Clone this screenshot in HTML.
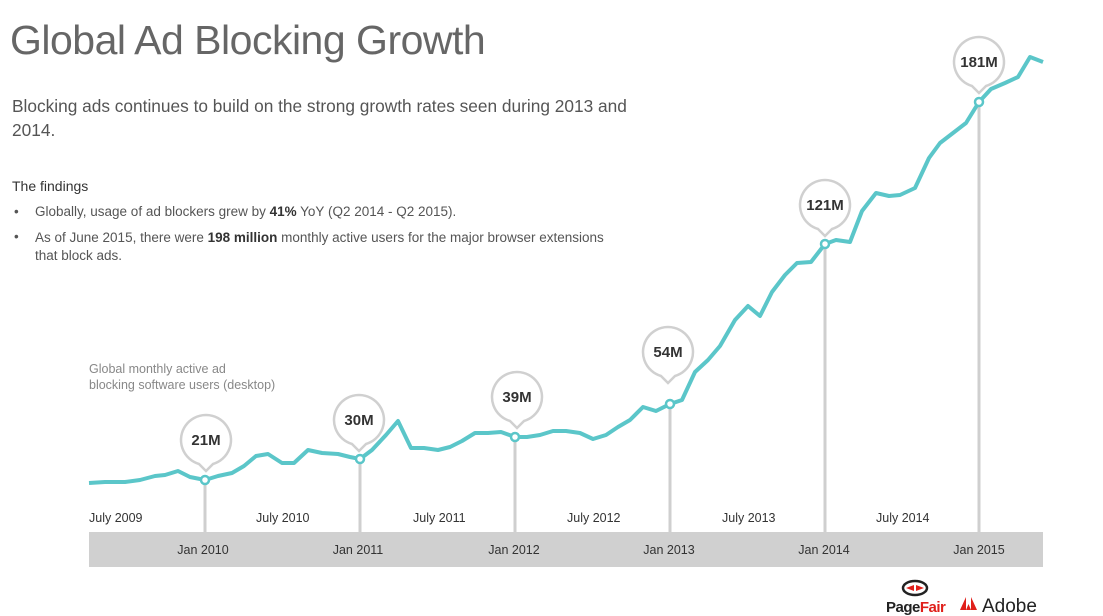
<!DOCTYPE html>
<html><head><meta charset="utf-8"><style>
body{margin:0;width:1103px;height:616px;background:#fff;overflow:hidden;font-family:"Liberation Sans",sans-serif;position:relative}
.t{position:absolute;white-space:nowrap}
</style></head><body>
<div class="t" style="left:10px;top:17px;font-size:41px;color:#666;letter-spacing:-0.5px">Global Ad Blocking Growth</div>
<div class="t" style="left:12px;top:94px;font-size:17.3px;color:#555;line-height:24px;white-space:normal;width:630px">Blocking ads continues to build on the strong growth rates seen during 2013 and 2014.</div>
<div class="t" style="left:12px;top:178px;font-size:14px;color:#333">The findings</div>
<div class="t" style="left:14px;top:204px;font-size:13.5px;color:#555">•</div>
<div class="t" style="left:35px;top:204px;font-size:13.5px;color:#555">Globally, usage of ad blockers grew by <b style="color:#333">41%</b> YoY (Q2 2014 - Q2 2015).</div>
<div class="t" style="left:14px;top:229px;font-size:13.5px;color:#555">•</div>
<div class="t" style="left:35px;top:229px;font-size:13.5px;color:#555;line-height:18px">As of June 2015, there were <b style="color:#333">198 million</b> monthly active users for the major browser extensions<br>that block ads.</div>
<div class="t" style="left:89px;top:361px;font-size:12.5px;color:#888;line-height:16px">Global monthly active ad<br>blocking software users (desktop)</div>
<svg width="1103" height="616" style="position:absolute;left:0;top:0">
<rect x="89" y="532" width="954" height="35" fill="#d0d0d0"/>
<g stroke="#cfcfcf" stroke-width="3">
<line x1="205" y1="480" x2="205" y2="532"/><line x1="360" y1="459" x2="360" y2="532"/><line x1="515" y1="437" x2="515" y2="532"/><line x1="670" y1="404" x2="670" y2="532"/><line x1="825" y1="244" x2="825" y2="532"/><line x1="979" y1="102" x2="979" y2="532"/>
</g>
<polyline fill="none" stroke="#5bc6c9" stroke-width="4" stroke-linejoin="round" points="89,483 105,482 125,482 140,480 155,476 165,475 178,471 190,477 205,480 218,476 232,473 244,466 256,456 268,454 282,463 294,463 308,450 322,453 338,454 350,457 360,459 372,450 386,435 398,421 411,448 424,448 438,450 450,447 462,441 475,433 488,433 501,432 515,437 527,437 540,435 553,431 566,431 580,433 593,439 606,435 618,427 630,420 643,407 656,411 670,404 682,400 695,372 708,360 720,346 735,320 748,306 760,316 772,292 785,275 797,263 811,262 825,244 836,240 850,242 862,211 876,193 889,196 900,195 915,188 929,158 940,143 953,133 966,123 979,102 991,89 1005,83 1018,77 1030,57 1043,62"/>
<g fill="#fff" stroke="#5bc6c9" stroke-width="2.5">
<circle cx="205" cy="480" r="4"/><circle cx="360" cy="459" r="4"/><circle cx="515" cy="437" r="4"/><circle cx="670" cy="404" r="4"/><circle cx="825" cy="244" r="4"/><circle cx="979" cy="102" r="4"/>
</g>
<defs><path id="b" d="M-7,24 A25,25 0 1 1 7,24 L0,31 Z"/></defs>
<g fill="#fff" stroke="#d0d0d0" stroke-width="2.5">
<use href="#b" x="206" y="440"/><use href="#b" x="359" y="420"/><use href="#b" x="517" y="397"/><use href="#b" x="668" y="352"/><use href="#b" x="825" y="205"/><use href="#b" x="979" y="62"/>
</g>
<g font-family="Liberation Sans,sans-serif" font-weight="bold" font-size="15" fill="#333" text-anchor="middle">
<text x="206" y="445">21M</text><text x="359" y="425">30M</text><text x="517" y="402">39M</text><text x="668" y="357">54M</text><text x="825" y="210">121M</text><text x="979" y="67">181M</text>
</g>
<g font-family="Liberation Sans,sans-serif" font-size="12.5" fill="#333">
<text x="89" y="522">July 2009</text><text x="256" y="522">July 2010</text><text x="413" y="522">July 2011</text><text x="567" y="522">July 2012</text><text x="722" y="522">July 2013</text><text x="876" y="522">July 2014</text>
</g>
<g font-family="Liberation Sans,sans-serif" font-size="12.5" fill="#333" text-anchor="middle">
<text x="203" y="554">Jan 2010</text><text x="358" y="554">Jan 2011</text><text x="514" y="554">Jan 2012</text><text x="669" y="554">Jan 2013</text><text x="824" y="554">Jan 2014</text><text x="979" y="554">Jan 2015</text>
</g>
<g fill="none" stroke="#222" stroke-width="2.5"><ellipse cx="915" cy="588" rx="12" ry="7"/></g>
<path d="M906,588 l8,-3 l0,6 z M924,588 l-8,-3 l0,6z" fill="#e0201b"/>
<text x="886" y="612" font-family="Liberation Sans,sans-serif" font-weight="bold" font-size="15" fill="#222" letter-spacing="-0.5">Page<tspan fill="#e0201b">Fair</tspan></text>
<path d="M960,610 L966,597 L966,610 Z M977,610 L971,597 L971,610 Z M966,610 L968.5,604 L971,610 Z" fill="#e0201b"/>
<text x="982" y="612" font-family="Liberation Sans,sans-serif" font-size="19" fill="#222">Adobe</text>
</svg>
</body></html>
